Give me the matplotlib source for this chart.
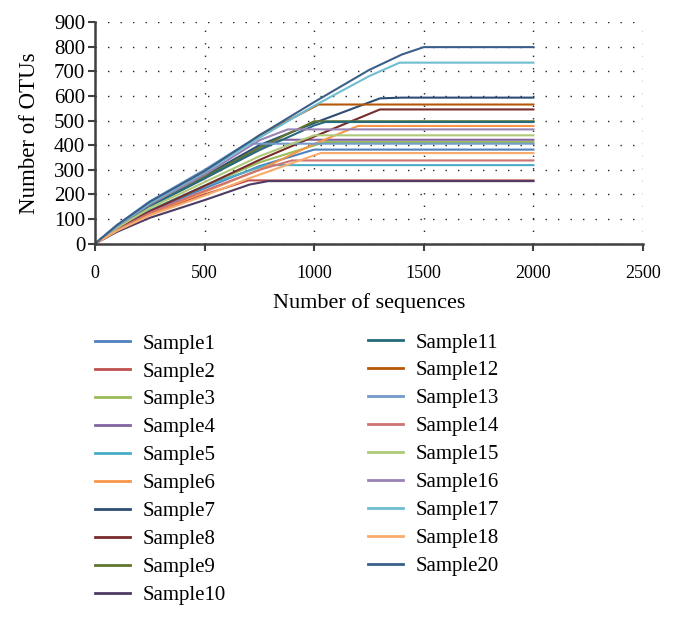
import matplotlib
matplotlib.use("Agg")
import matplotlib.pyplot as plt
from matplotlib.lines import Line2D

plt.rcParams['font.family'] = ['Liberation Serif', 'DejaVu Serif']

names = ["Sample1", "Sample2", "Sample3", "Sample4", "Sample5", "Sample6",
         "Sample7", "Sample8", "Sample9", "Sample10", "Sample11", "Sample12",
         "Sample13", "Sample14", "Sample15", "Sample16", "Sample17", "Sample18",
         "Sample20"]

colors = ["#4F81BD", "#C0504D", "#9BBB59", "#8064A2", "#4BACC6", "#F79646",
          "#2C4D75", "#772C2A", "#5F7530", "#4D3B62", "#276A7C", "#B65708",
          "#729ACA", "#CD7371", "#AFC97A", "#9983B5", "#6FBDD1", "#F9AB6B",
          "#3A5F8B"]

seqs = {
    "Sample1":  [0, 100, 250, 500, 750, 1000, 2000],
    "Sample2":  [0, 100, 250, 500, 700, 2000],
    "Sample3":  [0, 100, 250, 500, 750, 1050, 2000],
    "Sample4":  [0, 100, 250, 500, 750, 850, 2000],
    "Sample5":  [0, 100, 250, 500, 780, 2000],
    "Sample6":  [0, 100, 250, 500, 750, 1000, 1200, 2000],
    "Sample7":  [0, 100, 250, 500, 750, 1000, 1300, 1400, 2000],
    "Sample8":  [0, 100, 250, 500, 750, 1000, 1300, 2000],
    "Sample9":  [0, 100, 250, 500, 750, 1000, 2000],
    "Sample10": [0, 100, 250, 500, 705, 790, 2000],
    "Sample11": [0, 100, 250, 500, 750, 1000, 1050, 2000],
    "Sample12": [0, 100, 250, 500, 750, 1020, 2000],
    "Sample13": [0, 100, 250, 500, 690, 2000],
    "Sample14": [0, 100, 250, 500, 750, 900, 2000],
    "Sample15": [0, 100, 250, 500, 750, 1000, 2000],
    "Sample16": [0, 100, 250, 500, 750, 880, 2000],
    "Sample17": [0, 100, 250, 500, 750, 1000, 1250, 1390, 2000],
    "Sample18": [0, 100, 250, 500, 705, 1030, 2000],
    "Sample20": [0, 100, 250, 500, 750, 1000, 1250, 1400, 1500, 2000],
}

otus = {
    "Sample1":  [0, 58, 130, 225, 315, 382, 382],
    "Sample2":  [0, 55, 120, 200, 257, 257],
    "Sample3":  [0, 60, 135, 235, 330, 413, 413],
    "Sample4":  [0, 67, 152, 265, 390, 422, 422],
    "Sample5":  [0, 60, 135, 235, 319, 319],
    "Sample6":  [0, 54, 122, 210, 300, 405, 478, 478],
    "Sample7":  [0, 70, 158, 275, 400, 490, 590, 593, 593],
    "Sample8":  [0, 58, 132, 235, 340, 435, 545, 545],
    "Sample9":  [0, 68, 155, 270, 390, 497, 497],
    "Sample10": [0, 48, 105, 177, 240, 254, 254],
    "Sample11": [0, 67, 152, 265, 380, 480, 494, 494],
    "Sample12": [0, 74, 165, 288, 440, 565, 565],
    "Sample13": [0, 76, 172, 300, 406, 406],
    "Sample14": [0, 55, 125, 215, 300, 338, 338],
    "Sample15": [0, 64, 145, 250, 355, 440, 440],
    "Sample16": [0, 70, 160, 280, 420, 464, 464],
    "Sample17": [0, 73, 165, 290, 430, 560, 680, 735, 735],
    "Sample18": [0, 52, 115, 195, 266, 368, 368],
    "Sample20": [0, 75, 170, 295, 440, 575, 705, 768, 798, 798],
}

xticks = [0, 500, 1000, 1500, 2000, 2500]
yticks = [0, 100, 200, 300, 400, 500, 600, 700, 800, 900]

fig = plt.figure(figsize=(6.78, 6.18), dpi=100)
ax = fig.add_axes([95/678, 1 - 243.7/618, 548/678, 221.7/618])

handles = []
for name, col in zip(names, colors):
    ax.plot(seqs[name], otus[name], color=col, lw=1.5, solid_joinstyle='round')
    handles.append(Line2D([], [], color=col, lw=2))

ax.set_xlim(0, 2500)
ax.set_ylim(0, 900)
ax.set_xticks(xticks)
ax.set_yticks(yticks)
ax.tick_params(axis='x', labelsize=13, length=5, width=1.5, color='#404040', pad=10)
ax.tick_params(axis='y', labelsize=15, length=5, width=1.5, color='#404040', pad=2)
for s in ['top', 'right']:
    ax.spines[s].set_visible(False)
for s in ['left', 'bottom']:
    ax.spines[s].set_color('#404040')
    ax.spines[s].set_linewidth(1.8)
ax.grid(True, color='#222222', linestyle=(0, (1, 8)), linewidth=1.0)
ax.set_axisbelow(True)
ax.set_xlabel("Number of sequences", fontsize=16, labelpad=8)
ax.set_ylabel("Number of OTUs", fontsize=16.5, labelpad=10)

leg_kw = dict(loc='upper left', frameon=False, fontsize=15, handlelength=1.7,
              handletextpad=0.6, labelspacing=0.4, borderpad=0, borderaxespad=0)
l1 = fig.legend(handles[:10], names[:10], bbox_to_anchor=(95/678, 1 - 334/618), **leg_kw)
l2 = fig.legend(handles[10:], names[10:], bbox_to_anchor=(368/678, 1 - 333/618), **leg_kw)

fig.savefig("out.png", dpi=100)
